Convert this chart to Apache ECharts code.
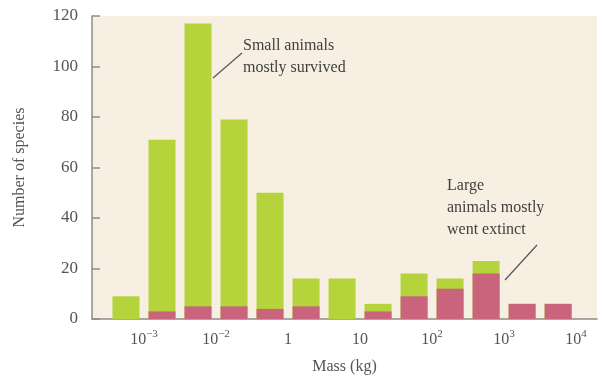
<!DOCTYPE html>
<html>
<head>
<meta charset="utf-8">
<script src="https://cdn.jsdelivr.net/npm/echarts@6/dist/echarts.min.js"></script>
<style>
  html, body { margin: 0; padding: 0; background: #fff; }
  #chart { width: 602px; height: 384px; }
</style>
</head>
<body>
<div id="chart"></div>
<script>
// bar positions in tick units (tick 0 = 10^-3, tick 1 = 10^-2, ...)
var binCenters = [-0.25, 0.25, 0.75, 1.25, 1.75, 2.25, 2.75, 3.25, 3.75, 4.25, 4.75, 5.25, 5.75];
var totalSpecies = [9, 71, 117, 79, 50, 16, 16, 6, 18, 16, 23, 6, 6];
var extinctSpecies = [0, 3, 5, 5, 4, 5, 0, 3, 9, 12, 18, 6, 6];
var tickBase = ['10', '10', '1', '10', '10', '10', '10'];
var tickExp = ['\u22123', '\u22122', '', '', '2', '3', '4'];

var serif = '"Liberation Serif", "DejaVu Serif", serif';

// totals drawn in green, extinct part overlaid in pink from the baseline
var totals = totalSpecies.map(function (t, i) { return [binCenters[i], t]; });
var extinct = extinctSpecies.map(function (e, i) { return [binCenters[i], e]; });

var chart = echarts.init(document.getElementById('chart'));

chart.setOption({
  backgroundColor: '#fff',
  animation: false,
  grid: {
    left: 92, right: 5, top: 16, bottom: 65,
    show: true, backgroundColor: '#f7f0e2', borderWidth: 0
  },
  xAxis: {
    type: 'value',
    min: -0.722,
    max: 6.29,
    splitLine: { show: false },
    axisLine: { onZero: false, lineStyle: { color: '#8c8c8c', width: 1.5 } },
    axisTick: { show: false },
    axisLabel: {
      customValues: [0, 1, 2, 3, 4, 5, 6],
      margin: 10,
      formatter: function (v) {
        var i = Math.round(v);
        return tickExp[i] ? '{b|' + tickBase[i] + '}{s|' + tickExp[i] + '}' : '{b|' + tickBase[i] + '}';
      },
      rich: {
        b: { fontFamily: serif, fontSize: 16, color: '#555', lineHeight: 19, verticalAlign: 'bottom' },
        s: { fontFamily: serif, fontSize: 11, color: '#555', lineHeight: 19, verticalAlign: 'top' }
      }
    },
    name: 'Mass (kg)',
    nameLocation: 'middle',
    nameGap: 40,
    nameTextStyle: { fontFamily: serif, fontSize: 16, color: '#555' }
  },
  yAxis: {
    type: 'value',
    min: 0, max: 120, interval: 20,
    splitLine: { show: false },
    axisLine: { show: true, onZero: false, lineStyle: { color: '#8c8c8c', width: 1.5 } },
    axisTick: { show: true, inside: true, length: 8, lineStyle: { color: '#8c8c8c', width: 1.5 } },
    axisLabel: { fontFamily: serif, fontSize: 17, color: '#555', margin: 14 },
    name: 'Number of species',
    nameLocation: 'middle',
    nameGap: 64,
    nameTextStyle: { fontFamily: serif, fontSize: 16, color: '#555' }
  },
  series: [
    {
      name: 'Total', type: 'bar', barWidth: 27, barGap: '-100%', z: 2,
      itemStyle: { color: '#b5d33a' },
      data: totals
    },
    {
      name: 'Extinct', type: 'bar', barWidth: 27, barGap: '-100%', z: 3,
      itemStyle: { color: '#c9647c' },
      data: extinct
    }
  ],
  graphic: [
    {
      type: 'text', left: 243, top: 35,
      style: { text: 'Small animals\nmostly survived', font: '16px ' + serif, fill: '#3f3f3f', lineHeight: 22 }
    },
    {
      type: 'line', shape: { x1: 213, y1: 78, x2: 242, y2: 53 },
      style: { stroke: '#555', lineWidth: 1.2 }
    },
    {
      type: 'text', left: 447, top: 175,
      style: { text: 'Large\nanimals mostly\nwent extinct', font: '16px ' + serif, fill: '#3f3f3f', lineHeight: 22 }
    },
    {
      type: 'line', shape: { x1: 537, y1: 245, x2: 505, y2: 280 },
      style: { stroke: '#555', lineWidth: 1.2 }
    }
  ]
});
</script>
</body>
</html>
